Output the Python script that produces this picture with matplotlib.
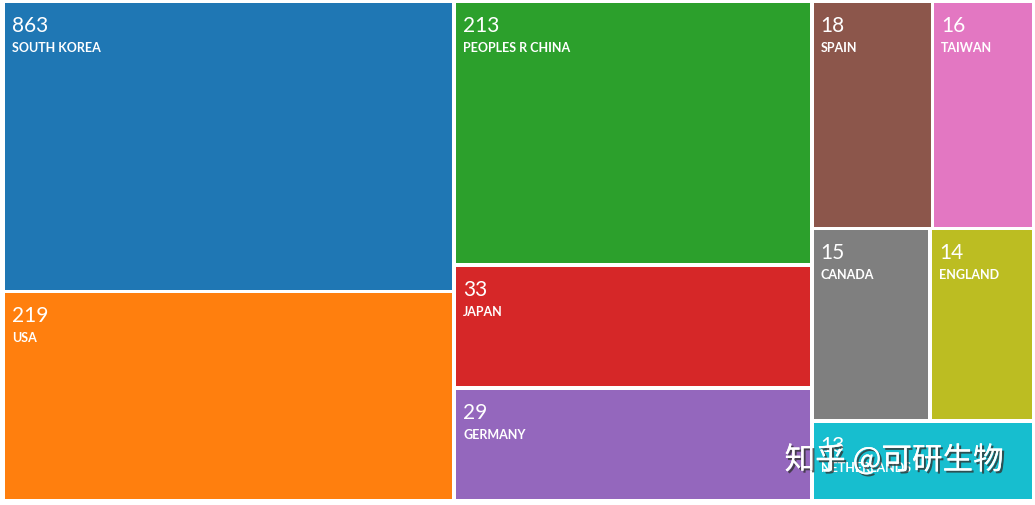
import numpy as np
import matplotlib
matplotlib.use("Agg")
import matplotlib.pyplot as plt
import matplotlib.patheffects as pe

plt.rcParams['font.family'] = ['Lato', 'DejaVu Sans']

countries = ['SOUTH KOREA', 'USA', 'PEOPLES R CHINA', 'JAPAN', 'GERMANY',
             'SPAIN', 'TAIWAN', 'CANADA', 'ENGLAND', 'NETHERLANDS']
counts = [863, 219, 213, 33, 29, 18, 16, 15, 14, 13]
# tile size measure (share of the area, %)
tile_size = [25.45, 18.34, 18.32, 8.55, 7.85, 5.33, 4.48, 4.42, 3.87, 3.45]

colors = plt.cm.tab10.colors
RATIO = 0.5 * (1 + np.sqrt(5))


def worst(row_areas, fixed):
    s = sum(row_areas)
    f = fixed * fixed * RATIO
    return max(f * max(row_areas) / (s * s), (s * s) / (f * min(row_areas)))


def position(row, areas, fixed, rect, half, flush, out):
    # rect = [x, y, w, h]
    horiz = fixed == rect[2]
    i0, i1 = (0, 1) if horiz else (1, 0)
    last = rect[i0]
    total = sum(areas[k] for k in row)
    other = total / fixed if fixed else 0
    if flush or other > rect[2 + i1]:
        other = rect[2 + i1]
    for n, k in enumerate(row):
        step = areas[k] / other if other else 0
        remain = rect[i0] + rect[2 + i0] - last
        mod = remain if (n == len(row) - 1 or remain < step) else step
        box = [0, 0, 0, 0]
        box[2 + i1] = max(other - 2 * half, 0)
        box[2 + i0] = max(mod - 2 * half, 0)
        box[i1] = rect[i1] + min(half, box[2 + i1] / 2)
        box[i0] = last + min(half, box[2 + i0] / 2)
        last += mod
        out[k] = box
    rect[i1] += other
    rect[2 + i1] -= other


def squarify(values, rect, half):
    rect = list(rect)
    tot = sum(values)
    areas = [v / tot * rect[2] * rect[3] for v in values]
    out = [None] * len(values)
    row, best = [], np.inf
    fixed = min(rect[2], rect[3])
    i = 0
    while i < len(values):
        row.append(i)
        score = worst([areas[k] for k in row], fixed)
        if score <= best:
            best = score
            i += 1
        else:
            row.pop()
            position(row, areas, fixed, rect, half, False, out)
            fixed = min(rect[2], rect[3])
            row, best = [], np.inf
    if row:
        position(row, areas, fixed, rect, half, True, out)
    return out


W, H = 1035, 506
fig = plt.figure(figsize=(W / 100, H / 100), dpi=100)
ax = fig.add_axes([0, 0, 1, 1])
ax.set_xlim(0, W)
ax.set_ylim(H, 0)
ax.axis('off')

boxes = squarify(tile_size, [3.2, 2.2, 1030.6, 499.6], 1.8)
for k, (x, y, w, h) in enumerate(boxes):
    ax.add_patch(plt.Rectangle((x, y), w, h, facecolor=colors[k], edgecolor='none'))
    ax.text(x + 7, y + 28, str(counts[k]), color='white', fontsize=15,
            va='baseline', ha='left')
    ax.text(x + 7, y + 48, countries[k], color='white', fontsize=9,
            fontweight='bold', va='baseline', ha='left')

ax.text(894, 461, '知乎 @可研生物', family=['Noto Sans CJK SC', 'DejaVu Sans'],
        fontsize=22, color='white', ha='center', va='center',
        path_effects=[pe.withSimplePatchShadow(offset=(1.5, -1.5),
                                               shadow_rgbFace='#333333', alpha=0.8),
                      pe.Normal()])

fig.savefig('out.png', dpi=100)
